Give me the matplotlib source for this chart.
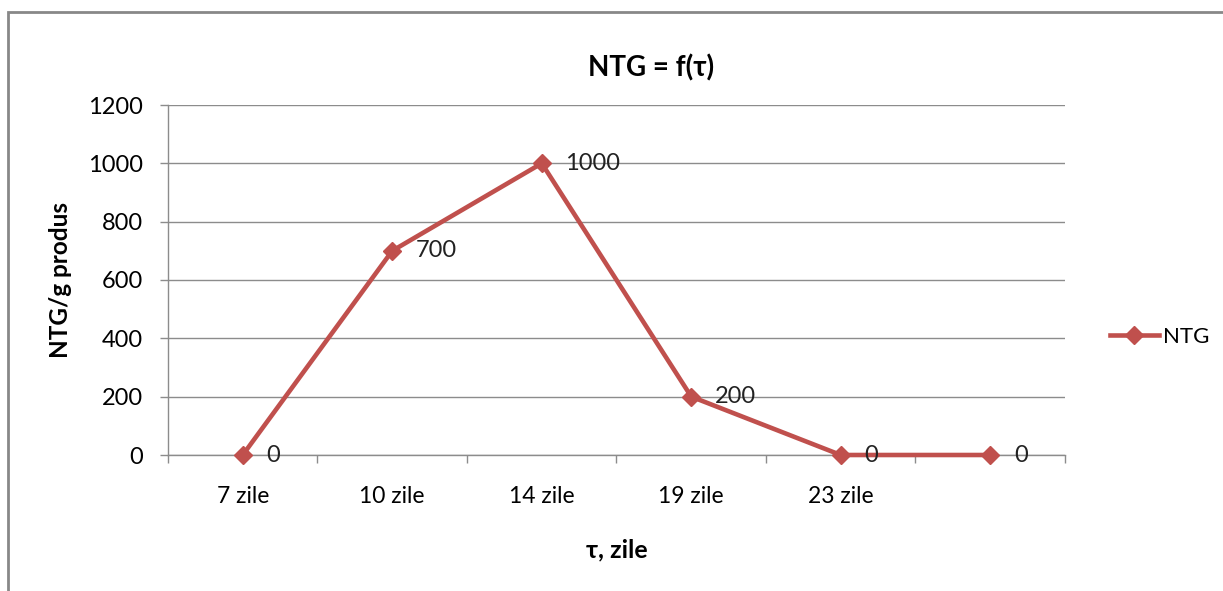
import matplotlib.pyplot as plt
from matplotlib.patches import Rectangle

categories = ["7 zile", "10 zile", "14 zile", "19 zile", "23 zile", ""]
ntg = [0, 700, 1000, 200, 0, 0]
yticks = [0, 200, 400, 600, 800, 1000, 1200]

red = "#C0504D"
grey = "#8C8C8C"
fam = ["Lato", "DejaVu Sans"]
plt.rcParams["font.family"] = fam

fig = plt.figure(figsize=(12.23, 5.91), dpi=100)
ax = fig.add_axes([168 / 1223, 1 - 455 / 591, (1065 - 168) / 1223, (455 - 105) / 591])

# chart frame (only top and left visible in the reference)
fig.patches.append(Rectangle((8 / 1223, -0.1), 1.2, 1 - 12 / 591 + 0.1,
                             transform=fig.transFigure, fill=False,
                             edgecolor="#888888", linewidth=2))

x = [i + 0.5 for i in range(len(categories))]
ax.plot(x, ntg, color=red, linewidth=3.3, marker="D", markersize=9,
        label="NTG", zorder=3, clip_on=False)

for xi, v in zip(x, ntg):
    ax.annotate(str(v), (xi, v), xytext=(17, 0), textcoords="offset points",
                va="center", ha="left", fontsize=17, color="#222222")

ax.set_xlim(0, len(categories))
ax.set_ylim(0, 1200)
ax.set_yticks(yticks)
ax.set_xticks(range(len(categories) + 1))
ax.set_xticklabels([])
ax.set_xticks(x, minor=True)
ax.set_xticklabels(categories, minor=True)
ax.tick_params(axis="x", which="major", length=6, color=grey, width=1, direction="out")
ax.tick_params(axis="x", which="minor", length=0, pad=22, labelsize=16.5)
ax.tick_params(axis="y", length=6, color=grey, width=1, pad=12, labelsize=17)
ax.grid(axis="y", color=grey, linewidth=1)
ax.set_axisbelow(True)
for s in ["top", "right"]:
    ax.spines[s].set_visible(False)
for s in ["left", "bottom"]:
    ax.spines[s].set_color(grey)
    ax.spines[s].set_linewidth(1)

fig.text(651 / 1223, 1 - 68 / 591, "NTG = f(τ)", ha="center", va="center",
         fontsize=20, fontweight="bold")
fig.text(617 / 1223, 1 - 550 / 591, "τ, zile", ha="center", va="center",
         fontsize=18, fontweight="bold")
fig.text(60 / 1223, 1 - 280 / 591, "NTG/g produs", ha="center", va="center",
         rotation=90, fontsize=17.5, fontweight="bold")

ax.legend(loc="center left", bbox_to_anchor=(1090 / 1223, 1 - 337 / 591),
          bbox_transform=fig.transFigure, frameon=False, fontsize=16,
          handlelength=2.2, handletextpad=0.2)

fig.savefig("out.png", dpi=100)
